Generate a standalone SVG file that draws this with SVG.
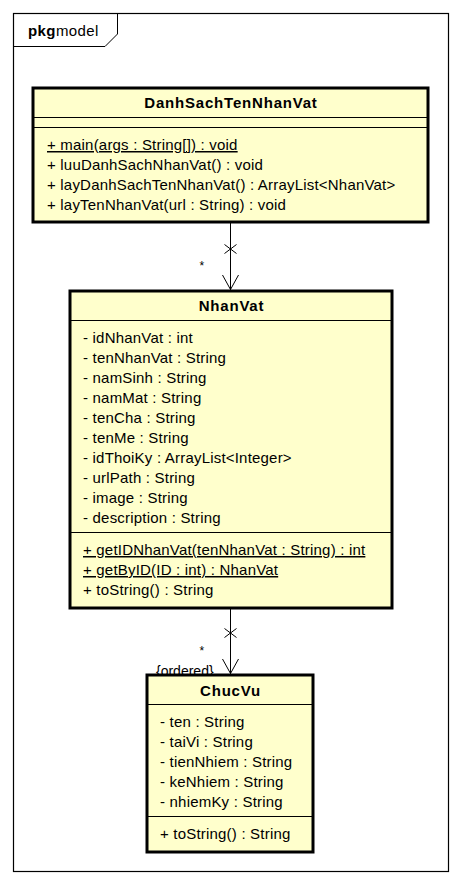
<svg xmlns="http://www.w3.org/2000/svg" width="461" height="885" viewBox="0 0 461 885">
<style>
text{font-family:"Liberation Sans",Arial,sans-serif;font-size:15px;letter-spacing:0.2px;fill:#000}
.t{font-weight:bold;text-anchor:middle;letter-spacing:0.8px}
.box{fill:#FFFFCC;stroke:#000;stroke-width:3}
.div{stroke:#000;stroke-width:1}
.ln{stroke:#000;stroke-width:1;fill:none}
.u{text-decoration:underline}
.s{font-size:12px;letter-spacing:0}
</style>
<rect width="461" height="885" fill="#fff"/>
<g id="frame">
<rect x="13.5" y="13.5" width="435" height="858" fill="none" stroke="#000" stroke-width="1.2"/>
<path d="M13.5 46.5 H105 L117.5 34 V13.5" class="ln" stroke-width="1.2"/>
<text x="28" y="36" style="letter-spacing:0.4px"><tspan font-weight="bold">pkg</tspan>model</text>
</g>
<g id="connectors">
<line class="ln" x1="230.5" y1="222" x2="230.5" y2="290"/>
<path class="ln" d="M224.5 244.5 L236.5 253.5 M236.5 244.5 L224.5 253.5"/>
<path class="ln" d="M222.5 275 L230.5 289.5 L238.5 275"/>
<text x="199.5" y="270" class="s">*</text>
<line class="ln" x1="230.5" y1="608" x2="230.5" y2="674"/>
<path class="ln" d="M224.5 628.5 L236.5 637.5 M236.5 628.5 L224.5 637.5"/>
<path class="ln" d="M222.5 659 L230.5 673.5 L238.5 659"/>
<text x="199.5" y="655" class="s">*</text>
<text x="156" y="675.5" style="font-size:14px;letter-spacing:0">{ordered}</text>
</g>
<g id="DanhSachTenNhanVat">
<rect class="box" x="33" y="88" width="395" height="134"/>
<line class="div" x1="33" y1="117.5" x2="428" y2="117.5"/>
<line class="div" x1="33" y1="127.5" x2="428" y2="127.5"/>
<text class="t" x="231" y="108">DanhSachTenNhanVat</text>
<text x="47" y="150" class="u">+ main(args : String[]) : void</text>
<text x="47" y="170">+ luuDanhSachNhanVat() : void</text>
<text x="47" y="190">+ layDanhSachTenNhanVat() : ArrayList&lt;NhanVat&gt;</text>
<text x="47" y="210">+ layTenNhanVat(url : String) : void</text>
</g>
<g id="NhanVat">
<rect class="box" x="70" y="291" width="322" height="317"/>
<line class="div" x1="70" y1="320.5" x2="392" y2="320.5"/>
<line class="div" x1="70" y1="532.5" x2="392" y2="532.5"/>
<text class="t" x="231.5" y="311">NhanVat</text>
<text x="83" y="343">- idNhanVat : int</text>
<text x="83" y="363">- tenNhanVat : String</text>
<text x="83" y="383">- namSinh : String</text>
<text x="83" y="403">- namMat : String</text>
<text x="83" y="423">- tenCha : String</text>
<text x="83" y="443">- tenMe : String</text>
<text x="83" y="463">- idThoiKy : ArrayList&lt;Integer&gt;</text>
<text x="83" y="483">- urlPath : String</text>
<text x="83" y="503">- image : String</text>
<text x="83" y="523">- description : String</text>
<text x="83" y="555" class="u">+ getIDNhanVat(tenNhanVat : String) : int</text>
<text x="83" y="575" class="u">+ getByID(ID : int) : NhanVat</text>
<text x="83" y="595">+ toString() : String</text>
</g>
<g id="ChucVu">
<rect class="box" x="147" y="675" width="166" height="177"/>
<line class="div" x1="147" y1="704.5" x2="313" y2="704.5"/>
<line class="div" x1="147" y1="816.5" x2="313" y2="816.5"/>
<text class="t" x="230.5" y="696">ChucVu</text>
<text x="160" y="727">- ten : String</text>
<text x="160" y="747">- taiVi : String</text>
<text x="160" y="767">- tienNhiem : String</text>
<text x="160" y="787">- keNhiem : String</text>
<text x="160" y="807">- nhiemKy : String</text>
<text x="160" y="839">+ toString() : String</text>
</g>
</svg>
